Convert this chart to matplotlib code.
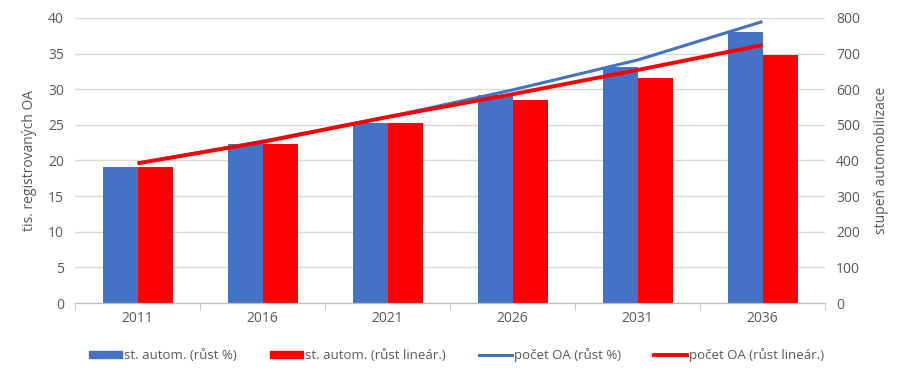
import numpy as np
import matplotlib.pyplot as plt
from matplotlib.patches import Patch
from matplotlib.lines import Line2D

years = ["2011", "2016", "2021", "2026", "2031", "2036"]
st_autom_pct = [382, 446, 506, 584, 663, 760]
st_autom_lin = [382, 446, 506, 570, 632, 696]
pocet_oa_pct = [19.6, 22.7, 26.1, 29.9, 34.1, 39.5]
pocet_oa_lin = [19.6, 22.6, 26.1, 29.3, 32.7, 36.2]

blue = "#4472C4"
red = "#FF0000"
grey = "#595959"

plt.rcParams['font.family'] = ['Open Sans', 'DejaVu Sans']

fig = plt.figure(figsize=(9.07, 3.81), dpi=100)
ax = fig.add_axes([0.0827, 0.2047, 0.8269, 0.7481])
ax2 = ax.twinx()

x = np.arange(len(years))
w = 0.28

# bars on right axis (stupeň automobilizace)
ax2.bar(x - w / 2, st_autom_pct, w, color=blue, zorder=2)
ax2.bar(x + w / 2, st_autom_lin, w, color=red, zorder=2)
ax2.set_ylim(0, 800)
ax2.set_yticks(range(0, 801, 100))
ax2.grid(axis='y', color='#D9D9D9', linewidth=1, zorder=0)
ax2.set_axisbelow(True)

# lines on left axis (tis. registrovaných OA)
ax.set_zorder(ax2.get_zorder() + 1)
ax.patch.set_visible(False)
ax.plot(x, pocet_oa_pct, color=blue, linewidth=2.2, solid_capstyle='butt')
ax.plot(x, pocet_oa_lin, color=red, linewidth=2.8, solid_capstyle='butt')
ax.set_ylim(0, 40)
ax.set_yticks(range(0, 41, 5))
ax.set_xlim(-0.5, len(years) - 0.5)
ax.set_xticks(x)
ax.set_xticklabels(years)
ax.set_xticks(np.arange(-0.5, len(years)), minor=True)

for a in (ax, ax2):
    for s in ('top', 'left', 'right'):
        a.spines[s].set_visible(False)
    a.spines['bottom'].set_color('#BFBFBF')
    a.tick_params(axis='y', length=0, labelsize=10, labelcolor=grey, pad=8)
ax.tick_params(axis='x', which='major', length=0, labelsize=10, labelcolor=grey, pad=6)
ax.tick_params(axis='x', which='minor', length=5, color='#BFBFBF')

ax.set_ylabel("tis. registrovaných OA", fontsize=10, color=grey, labelpad=8)
ax2.set_ylabel("stupeň automobilizace", fontsize=10, color=grey, labelpad=10)

handles = [
    Patch(color=blue),
    Patch(color=red),
    Line2D([], [], color=blue, linewidth=2.2),
    Line2D([], [], color=red, linewidth=2.8),
]
labels = ["st. autom. (růst %)", "st. autom. (růst lineár.)",
          "počet OA (růst %)", "počet OA (růst lineár.)"]
fig.legend(handles, labels, loc='center', bbox_to_anchor=(0.5035, 0.068), ncol=4,
           frameon=False, fontsize=9.5, labelcolor=grey, handlelength=2.5,
           handleheight=0.45, handletextpad=0.15, columnspacing=2.5)

fig.savefig("out.png", dpi=100)
